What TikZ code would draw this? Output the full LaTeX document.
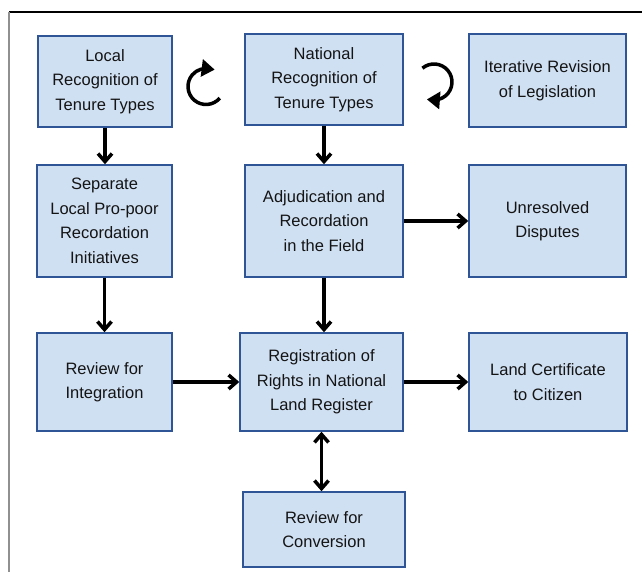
\documentclass[tikz,border=0pt]{standalone}
\usepackage{fontspec}
\setmainfont{Liberation Sans}
\usetikzlibrary{arrows.meta}
\definecolor{boxfill}{RGB}{208,224,243}
\definecolor{boxline}{RGB}{47,85,151}
\definecolor{framegray}{RGB}{144,144,144}
\definecolor{inktext}{RGB}{20,20,20}
\begin{document}
\begin{tikzpicture}[x=1pt,y=1pt,
  stage/.style={draw=boxline, fill=boxfill, line width=1.5pt, inner sep=0pt,
    align=center, text=inktext, font=\fontsize{16.5}{24.5}\selectfont},
  flow/.style={line width=3.5pt, -{Straight Barb[length=8pt,width=14pt]}},
  twoway/.style={line width=3.5pt,
    {Straight Barb[length=8pt,width=14pt]}-{Straight Barb[length=8pt,width=14pt]}},
  turnarrow/.style={line width=3.5pt, -{Triangle[length=13pt,width=17pt]}}]
\useasboundingbox (0,0) rectangle (642,572);

% page frame: top rule and left rule
\draw[line width=1.5pt] (9,560) -- (642,560);
\draw[framegray, line width=2.2pt] (9,560) -- (9,0);

% top row
\node[stage, minimum width=134pt, minimum height=91pt] (local) at (105,490.5)
  {Local\\Recognition of\\Tenure Types};
\node[stage, minimum width=158pt, minimum height=91pt] (national) at (324,492.5)
  {National\\Recognition of\\Tenure Types};
\node[stage, minimum width=157pt, minimum height=93pt] (iter) at (547.5,491.5)
  {Iterative Revision\\of Legislation};

% middle row
\node[stage, minimum width=135pt, minimum height=112pt] (separate) at (104.5,351)
  {Separate\\Local Pro-poor\\Recordation\\Initiatives};
\node[stage, minimum width=158pt, minimum height=112pt] (adjud) at (324,351)
  {Adjudication and\\Recordation\\in the Field};
\node[stage, minimum width=157pt, minimum height=112pt] (unresolved) at (547.5,351)
  {Unresolved\\Disputes};

% lower row
\node[stage, minimum width=135pt, minimum height=98pt] (review) at (104.5,190)
  {Review for\\Integration};
\node[stage, minimum width=163pt, minimum height=98pt] (regist) at (321.5,190)
  {Registration of\\Rights in National\\Land Register};
\node[stage, minimum width=158pt, minimum height=98pt] (land) at (548,190)
  {Land Certificate\\to Citizen};

% bottom
\node[stage, minimum width=162pt, minimum height=75pt] (conversion) at (324,42.5)
  {Review for\\Conversion};

% connectors
\draw[flow] (local.south) -- (local.south |- separate.north);
\draw[flow] (national.south) -- (national.south |- adjud.north);
\draw[flow] (adjud.east) -- (adjud.east -| unresolved.west);
\draw[flow] (separate.south) -- (separate.south |- review.north);
\draw[flow] (adjud.south) -- (adjud.south |- regist.north);
\draw[flow] (review.east) -- (review.east -| regist.west);
\draw[flow] (regist.east) -- (regist.east -| land.west);
\draw[twoway] (regist.south) -- (regist.south |- conversion.north);

% turning arrows beside the national box
\draw[turnarrow] (206,485.5) ++(-40:18) arc[start angle=-40, end angle=-285, radius=18] -- ++(4,-0.5);
\draw[turnarrow] (434,490) ++(130:18) arc[start angle=130, end angle=-100, radius=18] -- ++(-4,0.3);
\end{tikzpicture}
\end{document}
